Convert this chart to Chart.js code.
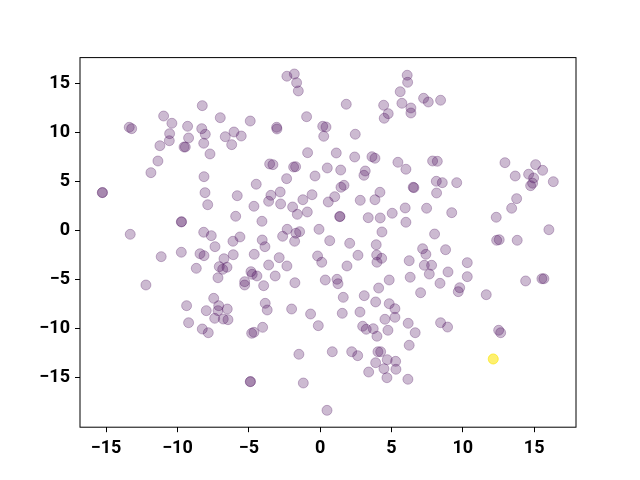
<!DOCTYPE html>
<html>
<head>
<meta charset="utf-8">
<script src="https://cdn.jsdelivr.net/npm/chart.js@4/dist/chart.umd.min.js"></script>
<style>
  html, body { margin: 0; padding: 0; background: #fff; }
  canvas { display: block; }
</style>
</head>
<body>
<canvas id="scatter" width="640" height="480"></canvas>
<script>
// values
const purpleX = [
  -8.26, -10.97, -10.39, -7.00, -4.90, -13.38, -13.21, -9.29, -8.30, -10.55,
  -8.05, -9.22, -10.57, -6.65, -6.04, -5.53, -6.20, -8.16, -11.23, -9.54,
  -9.45, -7.72, -11.37, -11.86, -8.14, -15.27, -15.25, -8.07, -7.88, -5.81,
  -5.92, -9.73, -9.71, -13.31, -8.16, -7.63, -6.11, -5.62, -7.37,
  -2.33, -1.81, -1.65, -1.53, 1.83, 6.10, 6.13, 5.61, 4.45, 4.77,
  4.49, 5.73, 6.36, 6.36, -0.95, -3.05, -3.03, 0.18, 0.41, 0.25,
  2.46, -0.88, 1.13, 2.42, 3.63, 3.84, -3.54, -3.31, -1.86, -1.72,
  0.50, 1.44, -0.36, -2.35, 3.16, 3.07, 5.45, 6.01, 6.52, 6.57,
  -4.48, -3.45, -2.80, -3.61, -4.64, -2.77, -1.93, -1.60, -1.21, -0.57,
  -0.90, 0.57, 1.02, 1.46, 1.67, 2.81, 3.84, 4.19, 1.37, 1.39,
  3.37, 4.21, 5.05, 5.96, 6.01, 4.33, -4.08, -2.31, -2.63, -1.70,
  -1.44, -0.08, -1.79, -4.06, -3.87, 0.67, 2.07, 3.93,
  7.25, 7.58, 8.44, 7.88, 8.21, 8.14, 8.56, 9.57, 8.16, 12.95,
  13.67, 15.10, 15.59, 14.61, 14.96, 14.75, 14.89, 16.34, 13.77, 13.42,
  12.34, 7.46, 9.22, 8.02, 16.03, 12.37, 12.55, 13.81,
  -11.14, -9.73, -8.42, -8.14, -6.09, -6.74, -8.68, -7.07, -6.83, -6.53,
  -7.16, -12.21, -5.29, -5.29, -9.36, -7.46, -7.11, -7.16, -7.98, -6.51,
  -7.39, -6.79, -6.46, -9.22, -8.26, -7.84, -4.90, -4.88,
  -4.62, -4.85, -4.76, -4.43, -3.61, -2.87, -2.33, -3.96, -3.15, -1.77,
  -0.18, 0.11, 1.88, 2.65, 3.96, 4.31, 3.98, 6.24, 6.31, 4.84,
  4.10, 0.36, 1.18, 1.25, 1.62, 3.09, 3.89, 4.84, 5.24, -3.85,
  -3.71, -2.00, -0.67, 1.55, 2.79, 4.54, 5.24, -0.13, -4.03, -4.80,
  -4.64, 2.98, 3.23, 3.72, 3.98, 4.75, 6.17, 6.24, -1.49, 0.85,
  2.21, 2.63, 4.05, 4.24, 3.89, 4.70, 5.29, 4.47, 5.31, 3.40,
  4.68, 6.15, -1.18, 0.48,
  7.18, 7.41, 8.79, 7.30, 7.81, 7.65, 8.96, 10.31, 10.31, 8.40,
  7.04, 9.78, 9.68, 11.64, 14.40, 15.54, 15.68, 6.66, 8.44, 8.93,
  12.51, 12.65
];
const purpleY = [
  12.79, 11.73, 10.99, 11.56, 11.22, 10.58, 10.44, 10.68, 10.44, 9.93,
  9.87, 9.49, 9.21, 9.62, 10.10, 9.69, 8.81, 8.95, 8.70, 8.57,
  8.57, 7.86, 7.14, 5.95, 5.54, 3.91, 3.93, 3.91, 2.68, 3.60,
  1.50, 0.92, 0.95, -0.34, -0.13, -0.48, -1.05, -0.61, -1.60,
  15.79, 16.02, 15.13, 14.29, 12.93, 15.89, 15.17, 14.21, 12.83, 11.97,
  11.50, 13.03, 12.55, 12.04, 11.66, 10.58, 10.41, 10.68, 10.61, 9.66,
  9.87, 7.99, 7.96, 7.55, 7.58, 7.42, 6.84, 6.77, 6.53, 6.56,
  6.43, 6.22, 5.61, 5.34, 6.12, 5.68, 7.01, 6.30, 4.46, 4.42,
  4.77, 3.64, 3.98, 3.03, 2.52, 2.76, 2.45, 1.70, 3.19, 3.70,
  1.94, 2.96, 3.50, 4.46, 4.66, 3.13, 3.19, 3.95, 1.46, 1.49,
  1.36, 1.33, 1.81, 2.35, 0.89, -0.10, 0.99, 0.17, -0.54, -0.23,
  -0.07, 0.17, -1.05, -0.92, -1.60, -0.99, -1.26, -1.40,
  13.54, 13.16, 13.34, 7.14, 7.11, 5.07, 4.93, 4.93, 3.88, 6.97,
  5.61, 6.77, 6.19, 5.79, 5.41, 4.62, 4.87, 5.03, 3.30, 2.32,
  1.40, 2.32, 1.87, -0.31, 0.13, -0.95, -0.89, -0.95,
  -2.62, -2.17, -2.32, -2.52, -2.42, -2.83, -3.81, -3.64, -3.91, -3.70,
  -4.77, -5.51, -5.17, -5.51, -7.62, -6.87, -7.62, -8.13, -8.13, -7.96,
  -8.91, -8.98, -9.05, -9.36, -10.00, -10.38, -15.38, -15.36,
  -2.38, -4.15, -4.42, -4.59, -3.47, -2.72, -3.57, -5.58, -4.59, -5.28,
  -2.55, -3.19, -3.57, -2.48, -2.45, -2.79, -3.19, -3.03, -4.72, -5.00,
  -5.82, -5.00, -4.93, -5.38, -6.77, -6.60, -7.24, -7.42, -7.93, -7.38,
  -8.06, -7.96, -8.47, -8.40, -8.27, -9.01, -8.81, -9.66, -9.83, -10.44,
  -10.34, -9.72, -10.03, -9.97, -10.74, -10.13, -9.42, -11.66, -12.58, -12.32,
  -12.32, -12.72, -12.32, -12.32, -13.44, -13.13, -13.30, -14.05, -14.11, -14.39,
  -14.97, -15.13, -15.51, -18.30,
  -1.81, -2.38, -1.91, -3.50, -3.50, -4.39, -4.18, -3.23, -4.66, -5.34,
  -6.30, -5.79, -6.19, -6.50, -5.10, -4.87, -4.87, -10.38, -9.36, -9.80,
  -10.13, -10.38
];
// the yellow mark looks stronger than one alpha layer, so stacked points
const yellowX = [12.13, 12.13, 12.13];
const yellowY = [-13.06, -13.06, -13.06];

const xTicks = [-15, -10, -5, 0, 5, 10, 15];
const yTicks = [-15, -10, -5, 0, 5, 10, 15];
const xRange = [-16.83, 17.93];
const yRange = [-20.02, 17.69];

const toPoints = (xs, ys) => xs.map((x, i) => ({ x: x, y: ys[i] }));
const minusLabel = (v) => (v < 0 ? "\u2212" + Math.abs(v) : String(v));

const purple = "rgba(68, 1, 84, 0.27)";
const yellow = "rgba(253, 231, 37, 0.3)";

// matplotlib style box around the plot area
const frame = {
  id: "frame",
  afterDatasetsDraw(chart) {
    const a = chart.chartArea;
    const ctx = chart.ctx;
    ctx.save();
    ctx.strokeStyle = "#000";
    ctx.lineWidth = 1;
    ctx.strokeRect(a.left, a.top, a.right - a.left, a.bottom - a.top);
    ctx.restore();
  },
};

const tickFont = { family: "Roboto", size: 18, weight: "bold" };

new Chart(document.getElementById("scatter").getContext("2d"), {
  type: "scatter",
  data: {
    datasets: [
      {
        data: toPoints(purpleX, purpleY),
        backgroundColor: purple,
        borderColor: purple,
        borderWidth: 1,
        pointRadius: 5,
      },
      {
        data: toPoints(yellowX, yellowY),
        backgroundColor: yellow,
        borderColor: yellow,
        borderWidth: 1,
        pointRadius: 5,
      },
    ],
  },
  options: {
    responsive: false,
    animation: false,
    devicePixelRatio: 1,
    layout: { padding: { left: 0, right: 64, top: 57.6, bottom: 0 } },
    plugins: { legend: { display: false }, tooltip: { enabled: false } },
    scales: {
      x: {
        type: "linear",
        min: xRange[0],
        max: xRange[1],
        afterBuildTicks: (scale) => {
          scale.ticks = xTicks.map((v) => ({ value: v }));
        },
        afterFit: (scale) => {
          scale.height = 52.8;
        },
        grid: { drawOnChartArea: false, drawTicks: true, tickLength: 5, color: "#000" },
        border: { display: false },
        ticks: { color: "#000", font: tickFont, padding: 5, maxRotation: 0, callback: minusLabel },
      },
      y: {
        type: "linear",
        min: yRange[0],
        max: yRange[1],
        afterBuildTicks: (scale) => {
          scale.ticks = yTicks.map((v) => ({ value: v }));
        },
        afterFit: (scale) => {
          scale.width = 80;
        },
        grid: { drawOnChartArea: false, drawTicks: true, tickLength: 5, color: "#000" },
        border: { display: false },
        ticks: { color: "#000", font: tickFont, padding: 5, callback: minusLabel },
      },
    },
  },
  plugins: [frame],
});
</script>
</body>
</html>
